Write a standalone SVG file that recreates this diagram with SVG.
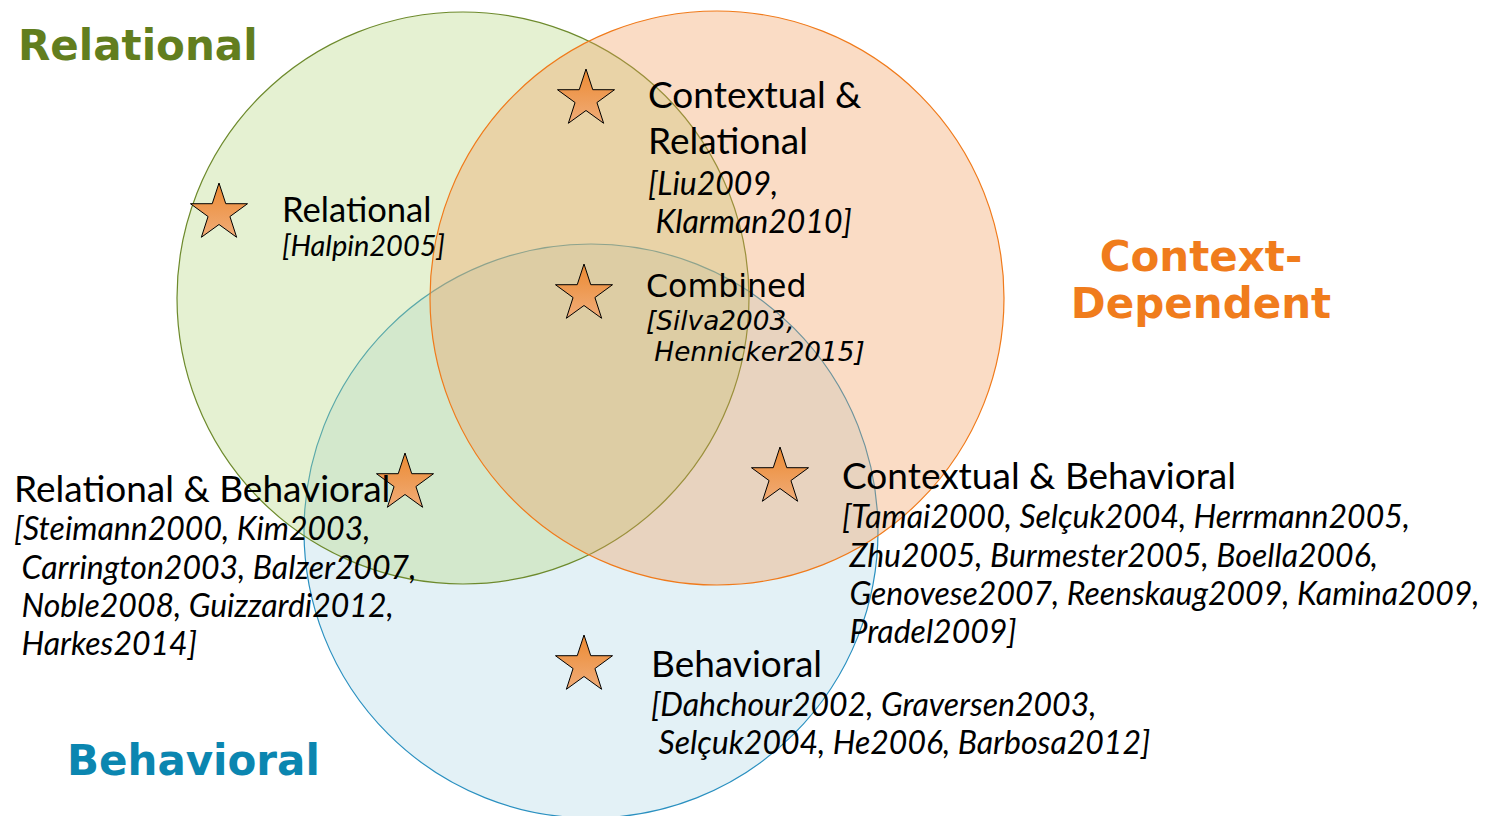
<svg xmlns="http://www.w3.org/2000/svg" width="1486" height="816" viewBox="0 0 1486 816">
<defs>
<linearGradient id="sg" x1="0" y1="0" x2="0" y2="1">
<stop offset="0" stop-color="#ec8a32"/>
<stop offset="1" stop-color="#f0ac78"/>
</linearGradient>
<path id="star" d="M0,-30 L6.76,-9.3 L28.53,-9.27 L10.94,3.55 L17.63,24.27 L0,11.5 L-17.63,24.27 L-10.94,3.55 L-28.53,-9.27 L-6.76,-9.3 Z" fill="url(#sg)" stroke="#000" stroke-width="1"/>
</defs>
<style>
.lbl{font-family:Lato,"Liberation Sans",sans-serif;fill:#000;font-size:37px;}
.cit{font-family:Lato,"Liberation Sans",sans-serif;font-style:italic;fill:#000;font-size:32px;}
.dj{font-family:"DejaVu Sans",sans-serif;fill:#000;}
.title{font-family:"DejaVu Sans",sans-serif;font-weight:bold;font-size:42px;}
</style>
<rect width="1486" height="816" fill="#fff"/>
<g id="sets">
<circle id="set-behavioral" cx="591" cy="531" r="287" fill="#afd7e5" fill-opacity="0.35" stroke="#2a90c0" stroke-width="1.2"/>
<circle id="set-relational" cx="463" cy="298" r="286" fill="#b4d67f" fill-opacity="0.35" stroke="#6d8a2c" stroke-width="1.2"/>
<circle id="set-context" cx="717" cy="298" r="287" fill="#f19b59" fill-opacity="0.35" stroke="#f07a1a" stroke-width="1.2"/>
</g>
<g id="titles">
<text class="title" x="18" y="60" fill="#627e1e">Relational</text>
<text class="title" x="1201" y="271" fill="#f07c1c" text-anchor="middle">Context-</text>
<text class="title" x="1201" y="318" fill="#f07c1c" text-anchor="middle">Dependent</text>
<text class="title" x="67" y="775" fill="#0b86b0">Behavioral</text>
</g>
<g id="connectors"></g>
<g id="node-contextual-relational">
<use href="#star" x="586" y="99"/>
<text class="lbl" x="648" y="108">Contextual &amp;</text>
<text class="lbl" x="648" y="154">Relational</text>
<text class="cit" x="648" y="195">[Liu2009,</text>
<text class="cit" x="648" y="233" xml:space="preserve"> Klarman2010]</text>
</g>
<g id="node-relational">
<use href="#star" x="219" y="213"/>
<text class="lbl" x="282" y="222" style="font-size:34.6px">Relational</text>
<text class="cit" x="282" y="256" style="font-size:29px">[Halpin2005]</text>
</g>
<g id="node-combined">
<use href="#star" x="584" y="294"/>
<text class="dj" x="646" y="297" font-size="31.6">Combined</text>
<text class="dj" x="646" y="330" font-size="26.3" font-style="italic">[Silva2003,</text>
<text class="dj" x="646" y="361" font-size="26.3" font-style="italic" xml:space="preserve"> Hennicker2015]</text>
</g>
<g id="node-relational-behavioral">
<use href="#star" x="405" y="483"/>
<text class="lbl" x="14" y="502">Relational &amp; Behavioral</text>
<text class="cit" x="14" y="540">[Steimann2000, Kim2003,</text>
<text class="cit" x="14" y="579" xml:space="preserve"> Carrington2003, Balzer2007,</text>
<text class="cit" x="14" y="617" xml:space="preserve"> Noble2008, Guizzardi2012,</text>
<text class="cit" x="14" y="655" xml:space="preserve"> Harkes2014]</text>
</g>
<g id="node-contextual-behavioral">
<use href="#star" x="780" y="477"/>
<text class="lbl" x="842" y="489">Contextual &amp; Behavioral</text>
<text class="cit" x="842" y="528">[Tamai2000, Selçuk2004, Herrmann2005,</text>
<text class="cit" x="842" y="567" xml:space="preserve"> Zhu2005, Burmester2005, Boella2006,</text>
<text class="cit" x="842" y="605" xml:space="preserve"> Genovese2007, Reenskaug2009, Kamina2009,</text>
<text class="cit" x="842" y="643" xml:space="preserve"> Pradel2009]</text>
</g>
<g id="node-behavioral">
<use href="#star" x="584" y="665"/>
<text class="lbl" x="651" y="677">Behavioral</text>
<text class="cit" x="651" y="716">[Dahchour2002, Graversen2003,</text>
<text class="cit" x="651" y="754" xml:space="preserve"> Selçuk2004, He2006, Barbosa2012]</text>
</g>
</svg>
